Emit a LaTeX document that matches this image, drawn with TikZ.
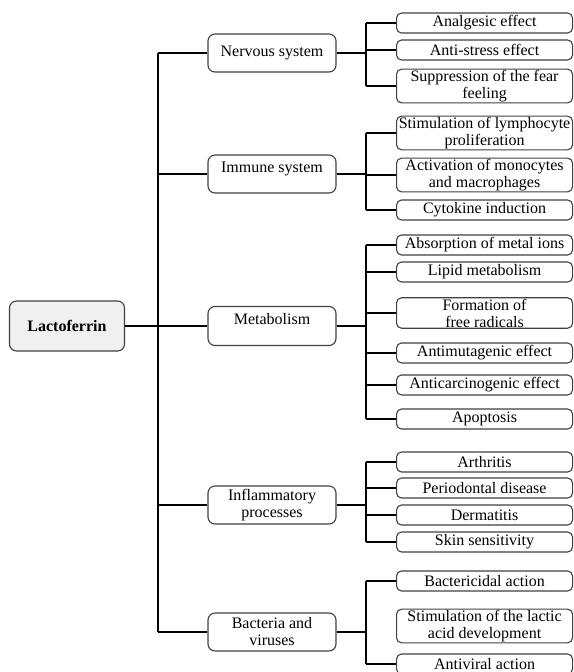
\documentclass[tikz,border=0pt]{standalone}
\usepackage{fontspec}
\setmainfont{Liberation Serif}
\usetikzlibrary{positioning}

\begin{document}
\begin{tikzpicture}[x=1pt, y=-1pt, %
        box/.style={draw=black!75, line width=1.1pt, align=center,
          font=\fontsize{16}{17}\selectfont},
        root/.style={box, rounded corners=7pt, fill=black!6,
          font=\fontsize{16}{17}\selectfont\bfseries,
          minimum width=115pt, minimum height=50pt},
        grp/.style={box, rounded corners=7pt, minimum width=128pt,
          minimum height=38pt, inner sep=1pt},
        leaf/.style={box, rounded corners=5pt, anchor=west, minimum width=176pt,
          minimum height=20pt, inner xsep=0pt, inner ysep=1pt},
        raised/.style={text height=11pt, text depth=15pt},
        conn/.style={line width=1.1pt}
        ]
        \useasboundingbox (0,0) rectangle (573,672);
        % root and first level
        \node[root] (lf) at (67,326) {Lactoferrin};
        \node[grp] (nerv) at (272,53) {Nervous system};
        \node[grp, raised] (imm) at (272,174) {Immune system};
        \node[grp, raised, minimum height=39pt] (met) at (272,326) {Metabolism};
        \node[grp] (infl) at (272,505) {Inflammatory\\processes};
        \node[grp] (bact) at (272,632) {Bacteria and\\viruses};
        % second level
        \node[leaf] (n1) at (396,23) {Analgesic effect};
        \node[leaf] (n2) at (396,50) {Anti-stress effect};
        \node[leaf] (n3) at (396,86) {Suppression of the fear\\feeling};
        \node[leaf] (i1) at (396,133) {Stimulation of lymphocyte\\proliferation};
        \node[leaf] (i2) at (396,175) {Activation of monocytes\\and macrophages};
        \node[leaf] (i3) at (396,210) {Cytokine induction};
        \node[leaf] (m1) at (396,245) {Absorption of metal ions};
        \node[leaf] (m2) at (396,272) {Lipid metabolism};
        \node[leaf] (m3) at (396,313) {Formation of\\free radicals};
        \node[leaf] (m4) at (396,353) {Antimutagenic effect};
        \node[leaf] (m5) at (396,385) {Anticarcinogenic effect};
        \node[leaf] (m6) at (396,419) {Apoptosis};
        \node[leaf] (f1) at (396,462) {Arthritis};
        \node[leaf] (f2) at (396,488) {Periodontal disease};
        \node[leaf] (f3) at (396,515) {Dermatitis};
        \node[leaf] (f4) at (396,542) {Skin sensitivity};
        \node[leaf] (b1) at (396,581) {Bactericidal action};
        \node[leaf] (b2) at (396,626) {Stimulation of the lactic\\acid development};
        \node[leaf] (b3) at (396,664) {Antiviral action};
        % junction columns
        \coordinate (tr) at (158,0);
        \coordinate (jn) at (366,0);
        % trunk
        \draw[conn] (nerv.west -| tr) -- (bact.west -| tr);
        \draw[conn] (lf.east) -- (met.west);
        \foreach \g in {nerv,imm,infl,bact}
          \draw[conn] (\g.west -| tr) -- (\g.west);
        % branches
        \foreach \g/\a/\z in {nerv/n1/n3, imm/i1/i3, met/m1/m6, infl/f1/f4, bact/b1/b3}{
          \draw[conn] (\g.east) -- (\g.east -| jn);
          \draw[conn] (\a.west -| jn) -- (\z.west -| jn);
        }
        \foreach \l in {n1,n2,n3,i1,i2,i3,m1,m2,m3,m4,m5,m6,f1,f2,f3,f4,b1,b3}
          \draw[conn] (\l.west -| jn) -- (\l.west);
      \end{tikzpicture}
\end{document}
